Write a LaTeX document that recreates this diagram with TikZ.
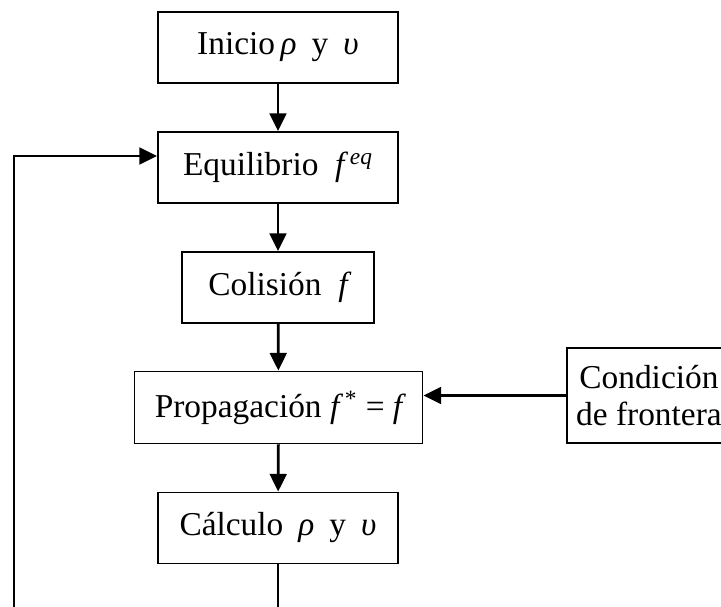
\documentclass[tikz,border=0pt]{standalone}
\usepackage{fontspec}
\setmainfont{Liberation Serif}
\usetikzlibrary{arrows.meta}

\tikzset{
    box/.style={draw, line width=1.1pt, inner sep=0pt, minimum height=1.42cm,
        font=\fontsize{19}{21}\selectfont},
    flow/.style={line width=1.6pt, -{Triangle[length=10pt,width=9.5pt]}},
    wire/.style={line width=1.6pt}
}

\begin{document}
\begin{tikzpicture}[x=0.02cm,y=-0.02cm]

\useasboundingbox (0,0) rectangle (721,607);
\clip (0,0) rectangle (721,607);

% Main column
\node[box, minimum width=4.8cm] (inicio) at (278,47.5)
    {Inicio\,{\itshape ρ}\hspace{0.45em}y\hspace{0.45em}{\itshape υ}};
\node[box, minimum width=4.8cm] (equil) at (278,167.5)
    {Equilibrio\hspace{0.5em}{\itshape f}\,\textsuperscript{\itshape eq}};
\node[box, minimum width=3.84cm] (colision) at (278,287.5)
    {Colisión\hspace{0.5em}{\itshape f}};
\node[box, minimum width=5.76cm, minimum height=1.44cm] (prop) at (278.5,407.5)
    {Propagación {\itshape f}\,\textsuperscript{*} = {\itshape f}};
\node[box, minimum width=4.8cm] (calculo) at (278,528)
    {Cálculo\hspace{0.45em}{\itshape ρ}\hspace{0.45em}y\hspace{0.45em}{\itshape υ}};

% Boundary condition
\node[box, minimum width=3.28cm, minimum height=1.9cm, anchor=west, align=center]
    (cond) at (566,395.5) {Condición\\de frontera};

% Arrows down the column
\draw[flow] (inicio) -- (equil);
\draw[flow] (equil) -- (colision);
\draw[flow] (colision) -- (prop);
\draw[flow] (prop) -- (calculo);
\draw[flow] (cond.west) -- (cond.west -| prop.east);

% Loop back to equilibrium
\coordinate (outb) at (278,612);
\coordinate (loopb) at (14,612);
\coordinate (loopt) at (14,156);
\draw[wire] (calculo) -- (outb);
\draw[flow] (loopb) -- (loopt) -- (loopt -| equil.west);

\end{tikzpicture}
\end{document}
